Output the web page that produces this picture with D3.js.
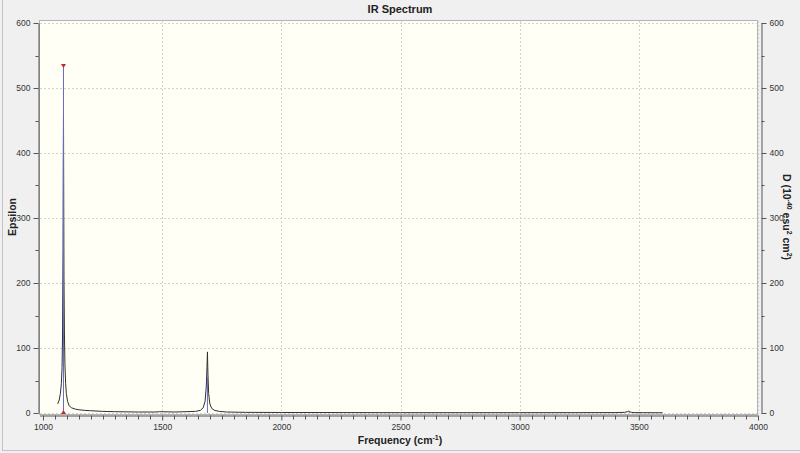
<!DOCTYPE html>
<html><head><meta charset="utf-8">
<script src="https://cdn.jsdelivr.net/npm/d3@7/dist/d3.min.js"></script>
<style>html,body{margin:0;padding:0;background:#f0f0f0;}svg{display:block;font-family:"Liberation Sans",Arial,sans-serif;}</style>
</head><body>
<svg id="c" width="800" height="453"></svg>
<script>
// Spectrum (frequency cm^-1, epsilon)
const specFreq = [1062,1068,1073,1077,1080,1082,1084,1085,1086,1087,1088,1090,1092,1095,1098,1103,1110,1120,1135,1150,1175,1200,1250,1300,1400,1470,1490,1550,1600,1640,1660,1672,1680,1685,1688,1690,1692,1695,1700,1708,1720,1740,1770,1850,2000,2500,3000,3400,3440,3452,3458,3462,3468,3480,3520,3600];
const specEps  = [14,20,30,45,70,120,250,380,460,330,210,120,75,45,30,18,11,8,6,5,4,3.5,2.5,2,1.5,1.5,2,1.5,2,2.5,4,8,18,40,70,94,60,30,14,7,4,2.5,1.5,1,0.8,0.5,0.5,0.6,1,2,3,2,1,0.6,0.5,0.4];
// Sticks (frequency, intensity on right axis)
const stickFreq = [1086, 1690, 3460];
const stickVal  = [533, 55, 2];
const xTicks = [1000,1500,2000,2500,3000,3500,4000];
const yTicks = [0,100,200,300,400,500,600];

(function(){
const svg = d3.select("#c");
const W = 800, H = 453;
const x = d3.scaleLinear().domain([1000,4000]).range([43,758]);
const y = d3.scaleLinear().domain([0,600]).range([413,23]);
const fmt = d3.format("d");

// window border
svg.append("rect").attr("x",2.5).attr("y",-1).attr("width",W+2).attr("height",451.5)
  .attr("fill","#f0f0f0").attr("stroke","#c4c4c4");

// plot area
svg.append("rect").attr("x",39.5).attr("y",20.5).attr("width",718).attr("height",394)
  .attr("fill","#fffff5").attr("stroke","#b4b4b4");

// grid
const g = svg.append("g");
g.selectAll(".gx").data(xTicks.slice(1)).join("line")
  .attr("x1",d=>Math.round(x(d))+0.5).attr("x2",d=>Math.round(x(d))+0.5)
  .attr("y1",21).attr("y2",414).attr("stroke","#d2d2d2").attr("stroke-dasharray","2,2");
g.selectAll(".gy").data(yTicks).join("line")
  .attr("y1",d=>Math.round(y(d))+0.5).attr("y2",d=>Math.round(y(d))+0.5)
  .attr("x1",40).attr("x2",757).attr("stroke","#d2d2d2").attr("stroke-dasharray","2,2");

const minorY = d3.range(50,600,100);
const minorX = d3.range(1050,4000,50).filter(v=>v%500!==0);

function styleAxis(sel){
  sel.select(".domain").attr("stroke","#555");
  sel.selectAll(".tick line").attr("stroke","#555");
  sel.selectAll(".tick text").attr("fill","#333").style("font-size","8.5px");
}

// left axis
const la = svg.append("g").attr("transform","translate(38.5,0)")
  .call(d3.axisLeft(y).tickValues(yTicks).tickFormat(fmt).tickSize(5).tickSizeOuter(0).tickPadding(3));
styleAxis(la);
svg.append("g").selectAll("line").data(minorY).join("line")
  .attr("x1",35.5).attr("x2",38.5).attr("y1",d=>Math.round(y(d))+0.5).attr("y2",d=>Math.round(y(d))+0.5).attr("stroke","#555");

// right axis
const ra = svg.append("g").attr("transform","translate(761.5,0)")
  .call(d3.axisRight(y).tickValues(yTicks).tickFormat(fmt).tickSize(5).tickSizeOuter(0).tickPadding(3));
styleAxis(ra);
svg.append("g").selectAll("line").data(minorY).join("line")
  .attr("x1",761.5).attr("x2",764.5).attr("y1",d=>Math.round(y(d))+0.5).attr("y2",d=>Math.round(y(d))+0.5).attr("stroke","#555");

// bottom axis
const ba = svg.append("g").attr("transform","translate(0,415.5)")
  .call(d3.axisBottom(x).tickValues(xTicks).tickFormat(fmt).tickSize(5).tickSizeOuter(0).tickPadding(3));
styleAxis(ba);
ba.select(".domain").attr("d","M40,0.5H758");
svg.append("g").selectAll("line").data(minorX).join("line")
  .attr("y1",415.5).attr("y2",419.5).attr("x1",d=>Math.round(x(d))+0.5).attr("x2",d=>Math.round(x(d))+0.5).attr("stroke","#555");

// spectrum
const pts = specFreq.map((f,i)=>[f,specEps[i]]);
svg.append("path").datum(pts)
  .attr("d", d3.line().x(d=>x(d[0])).y(d=>y(d[1])))
  .attr("fill","none").attr("stroke","#303030").attr("stroke-width",1);

// sticks
const sticks = stickFreq.map((f,i)=>[f,stickVal[i]]);
svg.append("g").selectAll("line").data(sticks).join("line")
  .attr("x1",d=>x(d[0])).attr("x2",d=>x(d[0]))
  .attr("y1",y(0)).attr("y2",d=>y(d[1]))
  .attr("stroke","#6a6ac8").attr("stroke-width",1);

// markers on strongest stick
const sx = x(stickFreq[0]), sTop = y(stickVal[0]), sBot = y(0);
svg.append("path").attr("d",`M${sx-2.5},${sTop-2.5}L${sx+2.5},${sTop-2.5}L${sx},${sTop+1.5}Z`).attr("fill","#c82828");
svg.append("path").attr("d",`M${sx-2.5},${sBot+1}L${sx+2.5},${sBot+1}L${sx},${sBot-3}Z`).attr("fill","#c82828");

// titles
svg.append("text").attr("x",400).attr("y",13).attr("text-anchor","middle")
  .style("font-size","11px").style("font-weight","bold").attr("fill","#222").text("IR Spectrum");

const xl = svg.append("text").attr("x",400).attr("y",444).attr("text-anchor","middle")
  .style("font-size","10.5px").style("font-weight","bold").attr("fill","#222");
xl.append("tspan").text("Frequency (cm");
xl.append("tspan").attr("dy",-4).style("font-size","7px").text("-1");
xl.append("tspan").attr("dy",4).text(")");

svg.append("text").attr("transform","translate(16,217) rotate(-90)").attr("text-anchor","middle")
  .style("font-size","10.5px").style("font-weight","bold").attr("fill","#222").text("Epsilon");

const rl = svg.append("text").attr("transform","translate(783,217) rotate(90)").attr("text-anchor","middle")
  .style("font-size","10.5px").style("font-weight","bold").attr("fill","#222");
rl.append("tspan").text("D (10");
rl.append("tspan").attr("dy",-4).style("font-size","7px").text("-40");
rl.append("tspan").attr("dy",4).text(" esu");
rl.append("tspan").attr("dy",-4).style("font-size","7px").text("2");
rl.append("tspan").attr("dy",4).text(" cm");
rl.append("tspan").attr("dy",-4).style("font-size","7px").text("2");
rl.append("tspan").attr("dy",4).text(")");
})();
</script>
</body></html>
